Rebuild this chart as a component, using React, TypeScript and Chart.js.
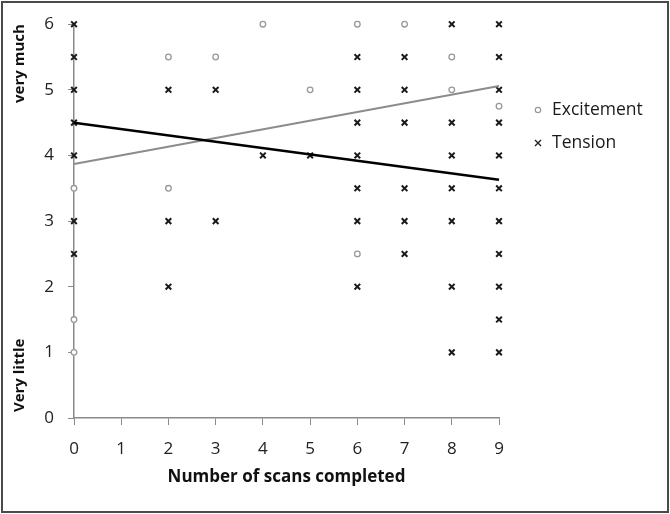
import React, { useEffect, useRef } from "react";
import { Chart, registerables } from "chart.js";

Chart.register(...registerables);

const xTicks = [0, 1, 2, 3, 4, 5, 6, 7, 8, 9];
const yTicks = [0, 1, 2, 3, 4, 5, 6];

const excitementX = [0, 0, 0, 2, 2, 3, 4, 5, 6, 6, 7, 8, 8, 9];
const excitementY = [3.5, 1.5, 1, 5.5, 3.5, 5.5, 6, 5, 6, 2.5, 6, 5.5, 5, 4.75];

const tensionX = [
  0, 0, 0, 0, 0, 0, 0,
  2, 2, 2,
  3, 3,
  4,
  5,
  6, 6, 6, 6, 6, 6, 6,
  7, 7, 7, 7, 7, 7,
  8, 8, 8, 8, 8, 8, 8,
  9, 9, 9, 9, 9, 9, 9, 9, 9, 9, 9,
];
const tensionY = [
  6, 5.5, 5, 4.5, 4, 3, 2.5,
  5, 3, 2,
  5, 3,
  4,
  4,
  5.5, 5, 4.5, 4, 3.5, 3, 2,
  5.5, 5, 4.5, 3.5, 3, 2.5,
  6, 4.5, 4, 3.5, 3, 2, 1,
  6, 5.5, 5, 4.5, 4, 3.5, 3, 2.5, 2, 1.5, 1,
];

const trendX = [0, 9];
const excitementTrend = [3.87, 5.06];
const tensionTrend = [4.5, 3.63];

const seriesNames = ["Excitement", "Tension"];
const xTitle = "Number of scans completed";
const yHighLabel = "very much";
const yLowLabel = "Very little";

const FONT = "'Open Sans', 'DejaVu Sans', sans-serif";

const pts = (xs: number[], ys: number[]) => xs.map((x, i) => ({ x, y: ys[i] }));

const decorPlugin = {
  id: "decor",
  afterDraw(chart: any) {
    const ctx = chart.ctx as CanvasRenderingContext2D;
    const area = chart.chartArea;
    const yScale = chart.scales.y;
    ctx.save();
    // frame
    ctx.strokeStyle = "#4a4a4a";
    ctx.lineWidth = 2;
    ctx.strokeRect(2, 2, chart.width - 4, chart.height - 4);

    // x title
    ctx.fillStyle = "#111";
    ctx.font = `bold 17px ${FONT}`;
    ctx.textAlign = "center";
    ctx.textBaseline = "middle";
    ctx.fillText(xTitle, (area.left + area.right) / 2, 477);

    // y labels (rotated)
    ctx.font = `bold 15px ${FONT}`;
    const drawRot = (text: string, cx: number, cy: number) => {
      ctx.save();
      ctx.translate(cx, cy);
      ctx.rotate(-Math.PI / 2);
      ctx.fillText(text, 0, 0);
      ctx.restore();
    };
    drawRot(yHighLabel, 20, yScale.getPixelForValue(5.4));
    drawRot(yLowLabel, 20, yScale.getPixelForValue(0.65));

    // legend
    ctx.font = `17.5px ${FONT}`;
    ctx.textAlign = "left";
    ctx.fillStyle = "#1a1a1a";
    const lx = 538;
    const ly1 = 110;
    const ly2 = 143;
    ctx.beginPath();
    ctx.strokeStyle = "#9a9a9a";
    ctx.lineWidth = 1.2;
    ctx.arc(lx, ly1, 2.7, 0, Math.PI * 2);
    ctx.stroke();
    ctx.beginPath();
    ctx.strokeStyle = "#222";
    ctx.lineWidth = 1.4;
    ctx.moveTo(lx - 3, ly2 - 3);
    ctx.lineTo(lx + 3, ly2 + 3);
    ctx.moveTo(lx + 3, ly2 - 3);
    ctx.lineTo(lx - 3, ly2 + 3);
    ctx.stroke();
    ctx.fillText(seriesNames[0], 552, ly1);
    ctx.fillText(seriesNames[1], 552, ly2);
    ctx.restore();
  },
};

export default function App() {
  const ref = useRef<HTMLCanvasElement | null>(null);
  useEffect(() => {
    if (!ref.current) return;
    const chart = new Chart(ref.current, {
      type: "scatter",
      data: {
        datasets: [
          {
            label: seriesNames[0],
            data: pts(excitementX, excitementY),
            pointStyle: "circle",
            pointRadius: 2.8,
            borderColor: "#999999",
            backgroundColor: "#ffffff",
            borderWidth: 1.3,
            clip: false,
            order: 3,
          },
          {
            label: seriesNames[1],
            data: pts(tensionX, tensionY),
            pointStyle: "crossRot",
            pointRadius: 4,
            borderColor: "#1a1a1a",
            backgroundColor: "#1a1a1a",
            borderWidth: 2,
            clip: false,
            order: 2,
          },
          {
            label: "excitement trend",
            data: pts(trendX, excitementTrend),
            showLine: true,
            pointRadius: 0,
            borderColor: "#8c8c8c",
            borderWidth: 2,
            clip: false,
            order: 1,
          },
          {
            label: "tension trend",
            data: pts(trendX, tensionTrend),
            showLine: true,
            pointRadius: 0,
            borderColor: "#000000",
            borderWidth: 2.5,
            clip: false,
            order: 0,
          },
        ],
      },
      options: {
        responsive: false,
        animation: false,
        devicePixelRatio: 1,
        layout: { padding: { left: 0, top: 23, right: 171, bottom: 0 } },
        plugins: {
          legend: { display: false },
          tooltip: { enabled: false },
        },
        scales: {
          x: {
            type: "linear",
            min: 0,
            max: 9,
            afterFit: (s: any) => {
              s.height = 96;
            },
            afterBuildTicks: (s: any) => {
              s.ticks = xTicks.map((v) => ({ value: v }));
            },
            grid: { drawOnChartArea: false, drawTicks: true, tickLength: 7, color: "#8a8a8a", lineWidth: 1 },
            border: { display: true, color: "#8a8a8a", width: 1.5 },
            ticks: { color: "#222", font: { family: FONT, size: 17 }, padding: 14, maxRotation: 0 },
          },
          y: {
            type: "linear",
            min: 0,
            max: 6,
            afterFit: (s: any) => {
              s.width = 74;
            },
            afterBuildTicks: (s: any) => {
              s.ticks = yTicks.map((v) => ({ value: v }));
            },
            grid: { drawOnChartArea: false, drawTicks: true, tickLength: 6, color: "#8a8a8a", lineWidth: 1 },
            border: { display: true, color: "#8a8a8a", width: 1.5 },
            ticks: { color: "#222", font: { family: FONT, size: 17 }, padding: 14 },
          },
        },
      },
      plugins: [decorPlugin],
    });
    return () => chart.destroy();
  }, []);
  return (
    <div style={{ position: "fixed", left: 0, top: 0, width: 670, height: 514, background: "#fff" }}>
      <canvas ref={ref} width={670} height={514} style={{ display: "block", width: 670, height: 514 }} />
    </div>
  );
}
